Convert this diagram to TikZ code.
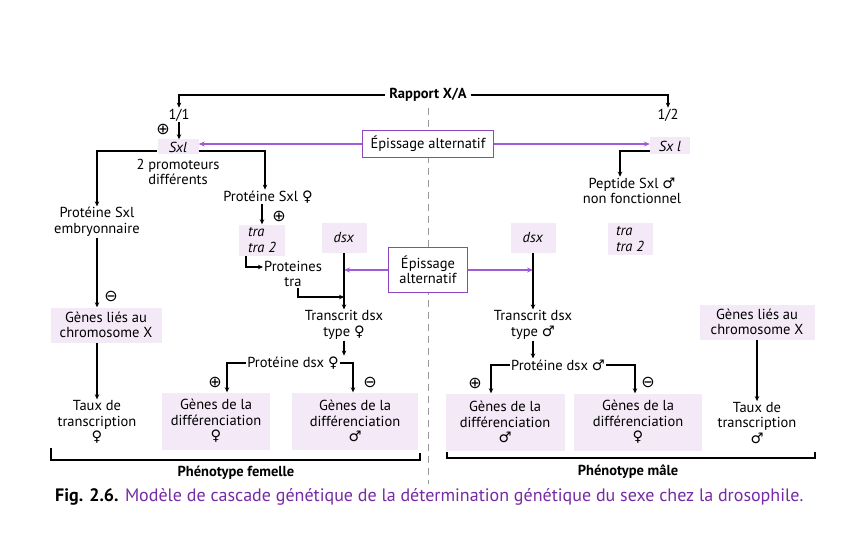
\documentclass[tikz,border=0pt]{standalone}
\usepackage{fontspec}
\setmainfont{PT Sans}
\newfontfamily\symfont{DejaVu Sans}
\usetikzlibrary{arrows.meta}
\definecolor{boxpink}{RGB}{244,233,247}
\definecolor{violetline}{RGB}{160,92,214}
\definecolor{violetbox}{RGB}{140,70,190}
\definecolor{captionviolet}{RGB}{118,42,165}
\newcommand{\fs}{\fontsize{14.5}{15.5}\selectfont}
\newcommand{\fem}{{\symfont\fontsize{14.5}{14}\selectfont ♀}}
\newcommand{\mal}{{\symfont\fontsize{14.5}{14}\selectfont ♂}}
\newcommand{\posreg}{{\symfont\fontsize{16}{16}\selectfont ⊕}}
\newcommand{\negreg}{{\symfont\fontsize{16}{16}\selectfont ⊖}}
\tikzset{
  pinkbox/.style={fill=boxpink, inner sep=2pt},
  epbox/.style={draw=violetbox, line width=1.3pt, fill=white, inner sep=3pt},
  arr/.style={-{Stealth[length=5pt,width=4.5pt]}, line width=1.1pt},
  varr/.style={-{Stealth[length=6pt,width=5pt]}, line width=1.5pt, violetline}
}
\begin{document}
\begin{tikzpicture}[x=1pt,y=-1pt,
  every node/.style={font=\fs, align=center, inner sep=1pt}]
\useasboundingbox[fill=white] (0,0) rectangle (853,540);

% dashed middle line
\draw[gray!80, line width=1pt, dash pattern=on 7pt off 5pt] (428,108) -- (428,484);

% X/A ratio
\node[font=\bfseries\fs, inner sep=4pt] (rapport) at (428,95) {Rapport X/A};
\node (r11) at (179,115) {1/1};
\node (r12) at (668,115) {1/2};
\draw[arr] (rapport.west) -| (r11.north);
\draw[arr] (rapport.east) -| (r12.north);

% Sxl (female / male)
\node[pinkbox, minimum width=41pt, minimum height=15pt] (sxl) at (178,147) {\textit{Sxl}};
\node (plus1) at (163,129) {\posreg};
\draw[arr] (r11.south) -- (r11.south |- sxl.north);
\node[pinkbox, minimum width=40pt, minimum height=17pt] (sxlm) at (670,146) {\textit{Sx l}};
\node[epbox, minimum width=131pt, minimum height=27pt] (ep1) at (428,144) {Épissage alternatif};
\draw[varr] (ep1.west) -- (ep1.west -| sxl.east);
\draw[varr] (ep1.east) -- (ep1.east -| sxlm.west);

\node (promo) at (178,172) {2 promoteurs\\différents};
\node (protemb) at (97,222) {Protéine Sxl\\embryonnaire};
\node (protf) at (268,197) {Protéine Sxl \fem};
\draw[arr] ([yshift=-4pt]sxl.west) -| (protemb.north);
\draw[arr] ([yshift=-4pt]sxl.east) -| ([xshift=-3pt]protf.north);
\node (pept) at (632,191) {Peptide Sxl \mal\\non fonctionnel};
\draw[arr] ([yshift=-5pt]sxlm.west) -| ([xshift=-12pt]pept.north);

% tra, tra 2
\node[pinkbox, minimum width=46pt, minimum height=31pt, align=left] (traf) at (262,240) {\textit{tra}\\\textit{tra 2}};
\node (plus2) at (279,216) {\posreg};
\draw[arr] (protf.south -| traf.north) -- (traf.north);
\node (protra) at (293,274) {Proteines\\tra};
\draw[arr] ([xshift=-16pt]traf.south) |- ([yshift=7pt]protra.west);
\node[pinkbox, minimum width=45pt, minimum height=32pt, align=left] (tram) at (630,239) {\textit{tra}\\\textit{tra 2}};

% dsx
\node[pinkbox, minimum width=45pt, minimum height=30pt] (dsxf) at (344,238) {\textit{dsx}};
\node[pinkbox, minimum width=45pt, minimum height=30pt] (dsxm) at (533,238) {\textit{dsx}};
\node[epbox, minimum width=79pt, minimum height=45pt] (ep2) at (428,270) {Épissage\\alternatif};
\draw[varr] (ep2.west) -- (ep2.west -| dsxf.south);
\draw[varr] (ep2.east) -- (ep2.east -| dsxm.south);

\node (trf) at (344,325) {Transcrit dsx\\type \fem};
\node (trm) at (533,325) {Transcrit dsx\\type \mal};
\draw[arr] (dsxf.south) -- (trf.north);
\draw[arr] (dsxm.south) -- (trm.north);
\coordinate (jf) at (344,297);
\draw[arr] ([xshift=5pt]protra.south) |- (jf);

% dsx proteins
\node (pdf) at (293,363) {Protéine dsx \fem};
\node (pdm) at (558,365) {Protéine dsx \mal};
\draw[arr] (trf.south) -- (trf.south |- pdf.north);
\draw[arr] (trm.south) -- (trm.south |- pdm.north);

% differentiation genes
\node[pinkbox, minimum width=108pt, minimum height=57pt] (gf1) at (216,421) {Gènes de la\\différenciation\\\fem};
\node[pinkbox, minimum width=126pt, minimum height=57pt] (gm1) at (355,421) {Gènes de la\\différenciation\\\mal};
\node[pinkbox, minimum width=119pt, minimum height=57pt] (gm2) at (505,422) {Gènes de la\\différenciation\\\mal};
\node[pinkbox, minimum width=128pt, minimum height=57pt] (gf2) at (638,422) {Gènes de la\\différenciation\\\fem};
\draw[arr] (pdf.west) -| ([xshift=11pt]gf1.north);
\draw[arr] (pdf.east) -| ([xshift=-2pt]gm1.north);
\draw[arr] (pdm.west) -| ([xshift=-14pt]gm2.north);
\draw[arr] (pdm.east) -| ([xshift=-3pt]gf2.north);
\node (plus3) at (215,382) {\posreg};
\node (minus2) at (370,382) {\negreg};
\node (plus4) at (475,383) {\posreg};
\node (minus3) at (648,382) {\negreg};

% X-linked genes
\node[pinkbox, minimum width=111pt, minimum height=35pt] (glf) at (106,325) {Gènes liés au\\chromosome X};
\node[pinkbox, minimum width=115pt, minimum height=35pt] (glm) at (757,322) {Gènes liés au\\chromosome X};
\node (minus1) at (111,296) {\negreg};
\draw[arr] (protemb.south) -- (protemb.south |- glf.north);
\node (tf) at (97,422) {Taux de\\transcription\\\fem};
\node (tm) at (757,423) {Taux de\\transcription\\\mal};
\draw[arr] (glf.south -| tf.north) -- (tf.north);
\draw[arr] (glm.south) -- (tm.north);

% phenotypes
\draw[line width=1.1pt] (51,448) -- (51,460) -- (420,460) -- (420,453);
\draw[line width=1.1pt] (447,452) -- (447,458) -- (815,458) -- (815,452);
\node[font=\bfseries\fs] (phf) at (236,473) {Phénotype femelle};
\node[font=\bfseries\fs] (phm) at (628,472) {Phénotype mâle};

% caption
\node[anchor=base west, inner sep=0pt, font=\fontsize{18}{20}\selectfont] (caption) at (55,501)
  {\textbf{Fig. 2.6.} \textcolor{captionviolet}{Modèle de cascade génétique de la détermination génétique du sexe chez la drosophile.}};
\end{tikzpicture}
\end{document}
